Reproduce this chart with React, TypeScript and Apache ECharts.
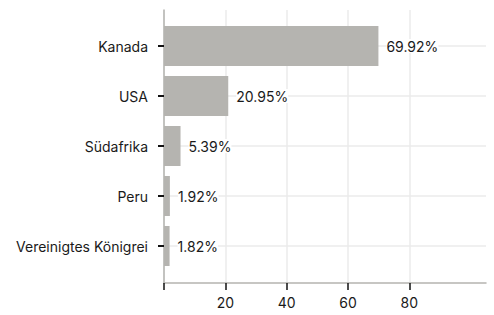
import React, { useEffect, useRef } from "react";
import * as echarts from "echarts";

const categories = ["Kanada", "USA", "Südafrika", "Peru", "Vereinigtes Königrei"];
const values = [69.92, 20.95, 5.39, 1.92, 1.82];
const xTickValues = [0, 20, 40, 60, 80];
const xLabelValues = [20, 40, 60, 80];

const FONT = "Inter";
const TEXT = "#1a1a1a";
const GRID = "#ebebeb";
const AXIS = "#b5b4b0";
const BAR = "#b5b4b0";

export default function App() {
  const ref = useRef<HTMLDivElement>(null);
  useEffect(() => {
    if (!ref.current) return;
    const chart = echarts.init(ref.current, null, { renderer: "svg" });
    chart.setOption({
      animation: false,
      textStyle: { fontFamily: FONT },
      grid: [
        { left: 164, right: 8, top: 10, bottom: 32 },
        { left: 164, right: 8, top: 21, height: 250 },
      ],
      xAxis: [
        {
          gridIndex: 0,
          type: "value",
          min: 0,
          max: 105,
          interval: 20,
          axisLine: { show: true, lineStyle: { color: AXIS, width: 1.5 } },
          axisTick: {
            show: true,
            length: 7,
            customValues: xTickValues,
            lineStyle: { color: "#111", width: 1.5 },
          },
          axisLabel: {
            customValues: xLabelValues,
            color: TEXT,
            fontSize: 14,
            fontFamily: FONT,
            margin: 12,
          },
          splitLine: { show: true, lineStyle: { color: GRID, width: 1.5 } },
        },
        {
          gridIndex: 1,
          type: "value",
          min: 0,
          max: 105,
          show: false,
        },
      ],
      yAxis: [
        {
          gridIndex: 0,
          type: "value",
          min: 0,
          max: 1,
          axisLine: { show: true, lineStyle: { color: AXIS, width: 1.5 } },
          axisTick: { show: false },
          axisLabel: { show: false },
          splitLine: { show: false },
        },
        {
          gridIndex: 1,
          type: "category",
          data: categories,
          inverse: true,
          axisLine: { show: false },
          axisTick: {
            show: true,
            alignWithLabel: true,
            length: 6,
            lineStyle: { color: "#111", width: 2 },
          },
          axisLabel: {
            color: TEXT,
            fontSize: 14,
            fontFamily: FONT,
            margin: 16,
          },
          splitLine: { show: false },
        },
      ],
      series: [
        {
          type: "line",
          xAxisIndex: 1,
          yAxisIndex: 1,
          data: [],
          z: 0,
          silent: true,
          markLine: {
            silent: true,
            z: 0,
            symbol: "none",
            label: { show: false },
            lineStyle: { color: GRID, width: 1.5, type: "solid" },
            data: categories.map((c) => ({ yAxis: c })),
          },
        },
        {
          type: "bar",
          xAxisIndex: 1,
          yAxisIndex: 1,
          data: values,
          z: 3,
          barCategoryGap: "20%",
          itemStyle: { color: BAR },
          label: {
            show: true,
            position: "right",
            distance: 8,
            color: TEXT,
            fontSize: 14,
            fontFamily: FONT,
            backgroundColor: "#ffffff",
            padding: [0, 0, 0, 0],
            formatter: (p: any) => p.value.toFixed(2) + "%",
          },
        },
      ],
    });
    return () => chart.dispose();
  }, []);
  return <div ref={ref} style={{ width: 494, height: 315, position: "absolute", left: 0, top: 0 }} />;
}
